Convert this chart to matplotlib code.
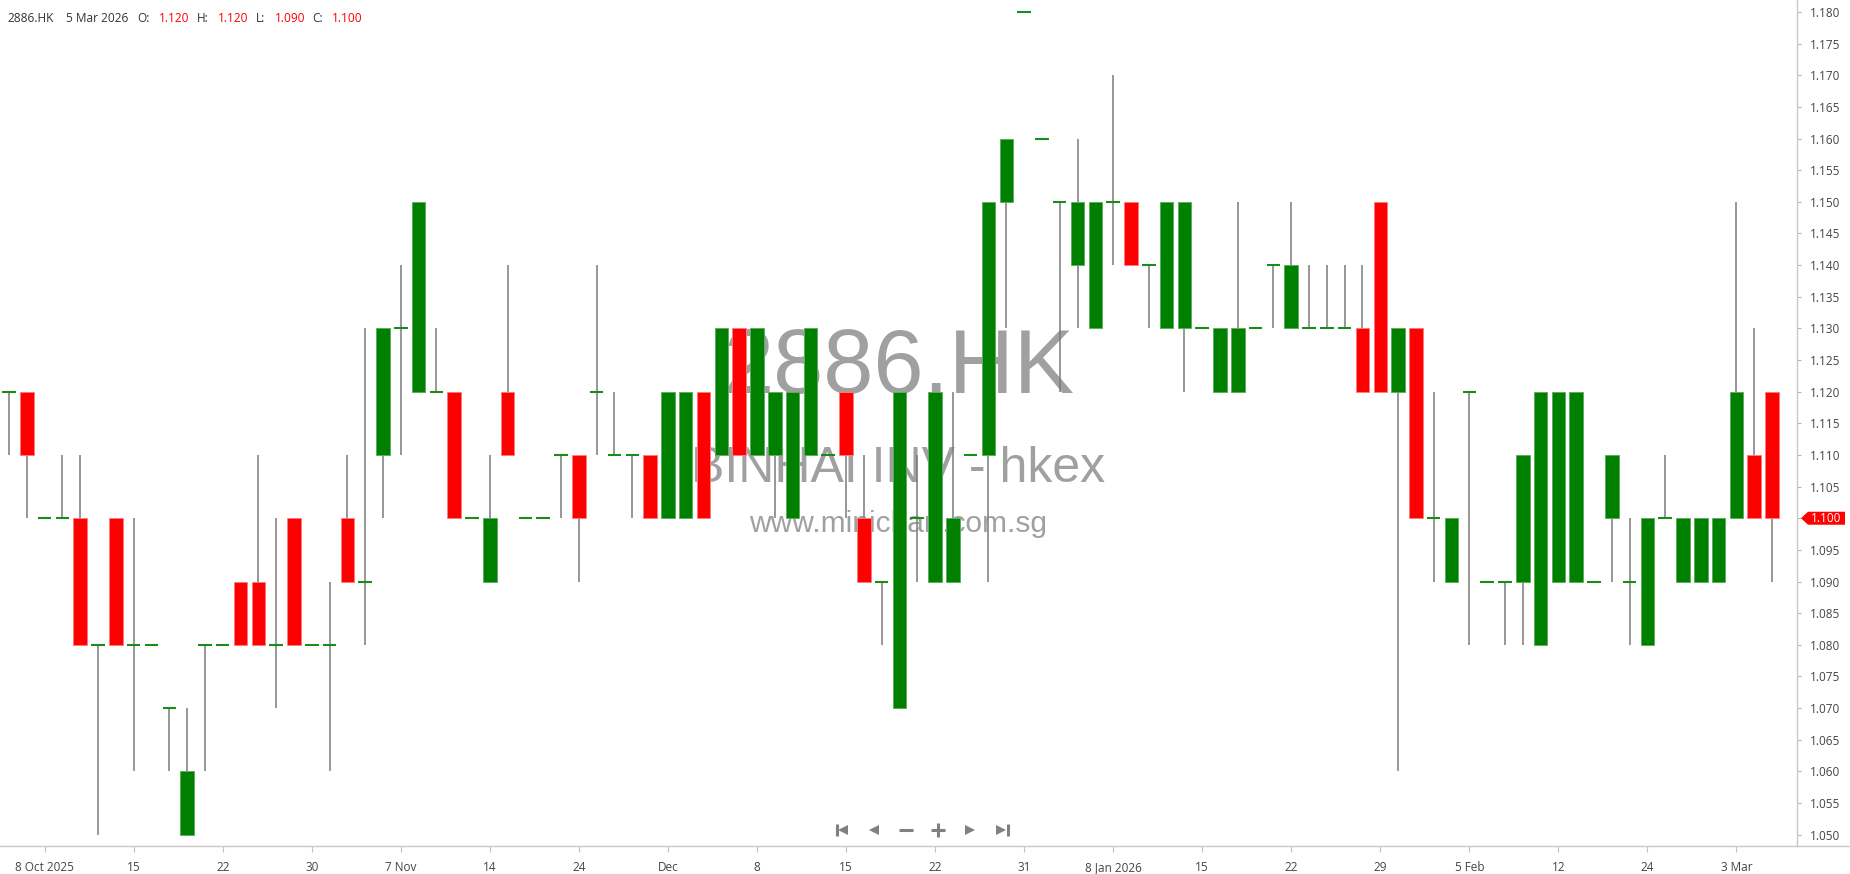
import matplotlib
matplotlib.use("Agg")
import matplotlib.pyplot as plt
import numpy as np
from matplotlib.patches import Polygon
from matplotlib.lines import Line2D

plt.rcParams['font.family'] = ['Open Sans', 'DejaVu Sans']

symbol = "2886.HK"
company = "BINHAI INV - hkex"
site = "www.minichart.com.sg"
last_date = "5 Mar 2026"

opens = [1.12, 1.12, 1.10, 1.10, 1.10, 1.08, 1.10, 1.08, 1.08, 1.07,
         1.05, 1.08, 1.08, 1.09, 1.09, 1.08, 1.10, 1.08, 1.08, 1.10,
         1.09, 1.11, 1.13, 1.12, 1.12, 1.12, 1.10, 1.09, 1.12, 1.10,
         1.10, 1.11, 1.11, 1.12, 1.11, 1.11, 1.11, 1.10, 1.10, 1.12,
         1.11, 1.13, 1.11, 1.11, 1.10, 1.11, 1.11, 1.12, 1.10, 1.09,
         1.07, 1.10, 1.09, 1.09, 1.11, 1.11, 1.15, 1.18, 1.16, 1.15,
         1.14, 1.13, 1.15, 1.15, 1.14, 1.13, 1.13, 1.13, 1.12, 1.12,
         1.13, 1.14, 1.13, 1.13, 1.13, 1.13, 1.13, 1.15, 1.12, 1.13,
         1.10, 1.09, 1.12, 1.09, 1.09, 1.09, 1.08, 1.09, 1.09, 1.09,
         1.10, 1.09, 1.08, 1.10, 1.09, 1.09, 1.09, 1.10, 1.11, 1.12]
highs = [1.12, 1.12, 1.10, 1.11, 1.11, 1.08, 1.10, 1.10, 1.08, 1.07,
         1.07, 1.08, 1.08, 1.09, 1.11, 1.10, 1.10, 1.08, 1.09, 1.11,
         1.13, 1.13, 1.14, 1.15, 1.13, 1.12, 1.10, 1.11, 1.14, 1.10,
         1.10, 1.11, 1.11, 1.14, 1.12, 1.11, 1.11, 1.12, 1.12, 1.12,
         1.13, 1.13, 1.13, 1.12, 1.12, 1.13, 1.11, 1.12, 1.11, 1.09,
         1.12, 1.11, 1.12, 1.12, 1.11, 1.15, 1.16, 1.18, 1.16, 1.15,
         1.16, 1.15, 1.17, 1.15, 1.14, 1.15, 1.15, 1.13, 1.13, 1.15,
         1.13, 1.14, 1.15, 1.14, 1.14, 1.14, 1.14, 1.15, 1.13, 1.13,
         1.12, 1.10, 1.12, 1.09, 1.09, 1.11, 1.12, 1.12, 1.12, 1.09,
         1.11, 1.10, 1.10, 1.11, 1.10, 1.10, 1.10, 1.15, 1.13, 1.12]
lows = [1.11, 1.10, 1.10, 1.10, 1.08, 1.05, 1.08, 1.06, 1.08, 1.06,
        1.05, 1.06, 1.08, 1.08, 1.08, 1.07, 1.08, 1.08, 1.06, 1.09,
        1.08, 1.10, 1.11, 1.12, 1.12, 1.10, 1.10, 1.09, 1.11, 1.10,
        1.10, 1.10, 1.09, 1.11, 1.11, 1.10, 1.10, 1.10, 1.10, 1.10,
        1.11, 1.11, 1.11, 1.10, 1.10, 1.11, 1.11, 1.10, 1.09, 1.08,
        1.07, 1.09, 1.09, 1.09, 1.11, 1.09, 1.13, 1.18, 1.16, 1.12,
        1.13, 1.13, 1.14, 1.14, 1.13, 1.13, 1.12, 1.13, 1.12, 1.12,
        1.13, 1.13, 1.13, 1.13, 1.13, 1.13, 1.12, 1.12, 1.06, 1.10,
        1.09, 1.09, 1.08, 1.09, 1.08, 1.08, 1.08, 1.09, 1.09, 1.09,
        1.09, 1.08, 1.08, 1.10, 1.09, 1.09, 1.09, 1.10, 1.10, 1.09]
closes = [1.12, 1.11, 1.10, 1.10, 1.08, 1.08, 1.08, 1.08, 1.08, 1.07,
          1.06, 1.08, 1.08, 1.08, 1.08, 1.08, 1.08, 1.08, 1.08, 1.09,
          1.09, 1.13, 1.13, 1.15, 1.12, 1.10, 1.10, 1.10, 1.11, 1.10,
          1.10, 1.11, 1.10, 1.12, 1.11, 1.11, 1.10, 1.12, 1.12, 1.10,
          1.13, 1.11, 1.13, 1.12, 1.12, 1.13, 1.11, 1.11, 1.09, 1.09,
          1.12, 1.10, 1.12, 1.10, 1.11, 1.15, 1.16, 1.18, 1.16, 1.15,
          1.15, 1.15, 1.15, 1.14, 1.14, 1.15, 1.15, 1.13, 1.13, 1.13,
          1.13, 1.14, 1.14, 1.13, 1.13, 1.13, 1.12, 1.12, 1.13, 1.10,
          1.10, 1.10, 1.12, 1.09, 1.09, 1.11, 1.12, 1.12, 1.12, 1.09,
          1.11, 1.09, 1.10, 1.10, 1.10, 1.10, 1.10, 1.12, 1.10, 1.10]

date_ticks = list(range(2, 100, 5))
date_labels = ["8 Oct 2025", "15", "22", "30", "7 Nov", "14", "24", "Dec", "8", "15",
               "22", "31", "8 Jan 2026", "15", "22", "29", "5 Feb", "12", "24", "3 Mar"]

W, H = 1850, 874
fig = plt.figure(figsize=(W / 100, H / 100), dpi=100)
fig.patch.set_facecolor('white')
ax = fig.add_axes([0, 28 / H, 1797 / W, 846 / H])

o = np.array(opens); c = np.array(closes); hi = np.array(highs); lo = np.array(lows)
x = np.arange(len(o))
up = c > o + 1e-9
dn = c < o - 1e-9
eq = ~(up | dn)
bw = 0.76

ax.vlines(x, lo, hi, color='#7a7a7a', lw=1.1, zorder=2)
ax.bar(x[up], (c - o)[up], bottom=o[up], width=bw, color='#008000',
       edgecolor='#5fae5f', lw=0.7, zorder=3)
ax.bar(x[dn], (o - c)[dn], bottom=c[dn], width=bw, color='#ff0000',
       edgecolor='#ff7a7a', lw=0.7, zorder=3)
ax.hlines(c[eq], x[eq] - bw / 2, x[eq] + bw / 2, color='#1a8c1a', lw=1.5, zorder=3)

# watermark
wm = dict(ha='center', va='baseline', color='#a0a0a0', family='Liberation Sans',
          transform=ax.transAxes, zorder=1)
ax.text(0.5, 1 - 393 / 846, symbol, fontsize=65, **wm)
ax.text(0.5, 1 - 482 / 846, company, fontsize=36, **wm)
ax.text(0.5, 1 - 532 / 846, site, fontsize=21.5, **wm)

ax.set_xlim(-0.505, 100.4)
ax.set_ylim(1.0482, 1.1819)

ax.yaxis.tick_right()
ax.set_yticks(np.arange(1.05, 1.1801, 0.005))
ax.yaxis.set_major_formatter(matplotlib.ticker.FormatStrFormatter('%.3f'))
ax.tick_params(axis='y', length=3, color='#b5b5b5', labelsize=8.5,
               labelcolor='#444444', pad=6)
ax.set_xticks(date_ticks)
ax.set_xticklabels(date_labels)
ax.tick_params(axis='x', length=4, color='#c0c0c0', labelsize=8.5,
               labelcolor='#444444', pad=7)
for s in ['top', 'left']:
    ax.spines[s].set_visible(False)
for s in ['right', 'bottom']:
    ax.spines[s].set_color('#c8c8c8')
    ax.spines[s].set_linewidth(1.0)
fig.add_artist(Line2D([1797 / W, 1], [28 / H, 28 / H], color='#c8c8c8', lw=1.0))

# header
def fx(px):
    return px / W

def fy(py):
    return 1 - py / H

hdr = [(symbol, 7, '#333333'), (last_date, 66, '#333333'),
       ("O:", 137, '#333333'), (f"{opens[-1]:.3f}", 159, '#ff0000'),
       ("H:", 197, '#333333'), (f"{highs[-1]:.3f}", 218, '#ff0000'),
       ("L:", 256, '#333333'), (f"{lows[-1]:.3f}", 275, '#ff0000'),
       ("C:", 312, '#333333'), (f"{closes[-1]:.3f}", 332, '#ff0000')]
for txt, px, col in hdr:
    fig.text(fx(px), fy(18.5), txt, ha='left', va='center', fontsize=8.6, color=col)

# last price tag
fig.canvas.draw()
ydisp = ax.transData.transform((0, closes[-1]))[1]
tag = Polygon([(1801, ydisp), (1808, ydisp + 6.5), (1845, ydisp + 6.5),
               (1845, ydisp - 6.5), (1808, ydisp - 6.5)], closed=True,
              facecolor='#ff0000', edgecolor='none', transform=None, zorder=10)
fig.add_artist(tag)
fig.text(fx(1826), ydisp / H, f"{closes[-1]:.3f}", ha='center', va='center',
         fontsize=8.5, color='white', zorder=11)

# navigation buttons
nav_y = fy(829.5)
navc = '#808080'
def nav(px, marker, ms, mew=0):
    fig.add_artist(Line2D([fx(px)], [nav_y], marker=marker, markersize=ms, color=navc,
                          markeredgecolor=navc, markeredgewidth=mew, linestyle='none'))

nav(836.5, '|', 9, 2.2)
nav(843, '<', 7.5)
nav(874, '<', 7.5)
nav(905.5, '_', 10, 2.2)
nav(937.5, '+', 10, 2.2)
nav(970, '>', 7.5)
nav(1001, '>', 7.5)
nav(1007.5, '|', 9, 2.2)

fig.savefig("out.png", dpi=100, facecolor='white')
